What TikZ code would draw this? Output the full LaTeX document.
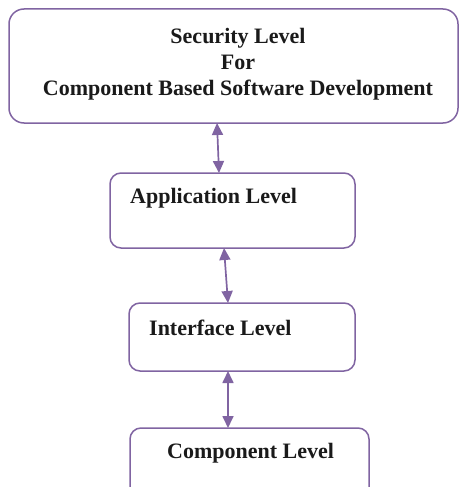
\documentclass[tikz,border=0pt]{standalone}
\usepackage{fontspec}
\setmainfont{Liberation Serif}
\usetikzlibrary{arrows.meta}
\definecolor{lvlpurple}{RGB}{128,100,162}
\definecolor{txtdark}{RGB}{26,26,26}
\begin{document}
\begin{tikzpicture}[x=1pt,y=-1pt,
  box/.style={draw=lvlpurple,line width=1.5pt,fill=white,inner sep=0pt,outer sep=0pt,rounded corners=11pt},
  lbl/.style={font=\fontsize{22}{26}\selectfont\bfseries,text=txtdark,inner sep=0pt,anchor=west},
  arr/.style={draw=lvlpurple,line width=1.7pt,{Triangle[length=12pt,width=11pt]}-{Triangle[length=12pt,width=11pt]}}]
\clip (0,0) rectangle (459,487);
% boxes
\node[box,rounded corners=15pt,minimum width=449pt,minimum height=114pt] (b1) at (233.5,66) {};
\node[box,minimum width=245pt,minimum height=75pt] (b2) at (232.5,210.5) {};
\node[box,minimum width=226pt,minimum height=68pt] (b3) at (242,337) {};
\node[box,minimum width=239pt,minimum height=82pt] (b4) at (249.5,469) {};
% texts
\node[font=\fontsize{22}{26}\selectfont\bfseries,text=txtdark,align=center,inner sep=0pt] (t1) at (238,64)
  {Security Level\\For\\Component Based Software Development};
\node[lbl] (t2) at (130,198) {Application Level};
\node[lbl] (t3) at (149,328) {Interface Level};
\node[lbl] (t4) at (167,453) {Component Level};
% connectors
\draw[arr] (217,0 |- b1.south) -- (219,0 |- b2.north);
\draw[arr] (224,0 |- b2.south) -- (228,0 |- b3.north);
\draw[arr] (228,0 |- b3.south) -- (228,0 |- b4.north);
\end{tikzpicture}
\end{document}
